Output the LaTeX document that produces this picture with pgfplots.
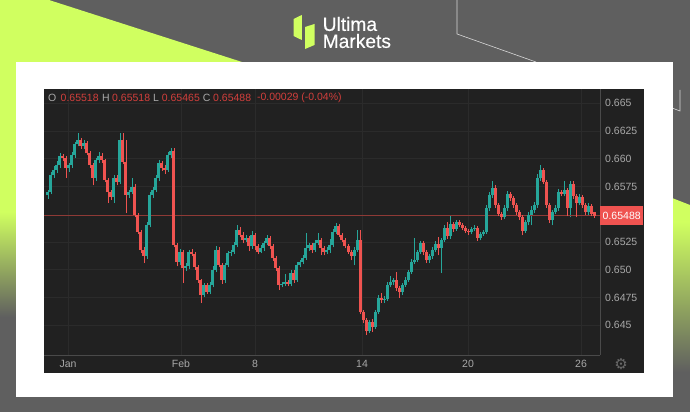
\documentclass[border=0pt]{standalone}
\usepackage{pgfplots}
\usepackage{pgfplotstable}
\usepackage{fontspec}
\setmainfont{Liberation Sans}
\newfontfamily\symfont{DejaVu Sans}
\newfontfamily\logofont[FakeBold=0.35]{Liberation Sans}
\pgfplotsset{compat=1.18}

\definecolor{bgray}{HTML}{5F5F5F}
\definecolor{lime}{HTML}{D0FF60}
\definecolor{panel}{HTML}{212121}
\definecolor{gridc}{HTML}{2B2B2B}
\definecolor{axisc}{HTML}{4A4A4A}
\definecolor{gearc}{HTML}{686868}
\definecolor{labelc}{HTML}{A8A8A8}
\definecolor{upc}{HTML}{26A69A}
\definecolor{downc}{HTML}{EF5350}
\definecolor{valc}{HTML}{D23F3C}
\definecolor{pricec}{HTML}{8E3A36}

% bar open high low close
\pgfplotstableread{
x o h l c
0 0.65672 0.65720 0.65640 0.65699
1 0.65699 0.65880 0.65680 0.65852
2 0.65852 0.65930 0.65830 0.65897
3 0.65897 0.65980 0.65870 0.65942
4 0.65942 0.66050 0.65920 0.66023
7 0.65915 0.65960 0.65880 0.65942
8 0.65942 0.66060 0.65920 0.66032
9 0.66032 0.66150 0.66010 0.66131
10 0.66131 0.66230 0.66110 0.66167
12 0.66113 0.66170 0.66090 0.66140
16 0.65825 0.66010 0.65800 0.65987
17 0.65987 0.66060 0.65960 0.66023
22 0.65654 0.65850 0.65600 0.65825
24 0.65789 0.66230 0.65770 0.66167
27 0.65672 0.65720 0.65650 0.65699
28 0.65699 0.65825 0.65680 0.65744
33 0.65123 0.65430 0.65100 0.65402
34 0.65402 0.65700 0.65380 0.65672
35 0.65672 0.65745 0.65650 0.65717
36 0.65717 0.65850 0.65700 0.65825
37 0.65825 0.65990 0.65800 0.65960
40 0.65897 0.66060 0.65880 0.66032
41 0.66032 0.66095 0.66010 0.66068
44 0.65069 0.65185 0.65040 0.65159
46 0.65015 0.65060 0.64990 0.65030
47 0.65030 0.65180 0.65010 0.65159
52 0.64772 0.64880 0.64750 0.64862
54 0.64799 0.64885 0.64780 0.64862
55 0.64862 0.65030 0.64840 0.64997
56 0.64997 0.65215 0.64980 0.65177
59 0.64907 0.65060 0.64880 0.65042
60 0.65042 0.65170 0.65020 0.65150
61 0.65150 0.65180 0.65120 0.65159
62 0.65159 0.65245 0.65140 0.65222
63 0.65222 0.65400 0.65200 0.65357
66 0.65267 0.65310 0.65250 0.65285
68 0.65213 0.65350 0.65190 0.65312
71 0.65159 0.65220 0.65150 0.65195
72 0.65195 0.65260 0.65170 0.65240
73 0.65240 0.65310 0.65220 0.65285
78 0.64862 0.64890 0.64840 0.64871
79 0.64871 0.64960 0.64850 0.64889
81 0.64870 0.65000 0.64850 0.64970
83 0.64907 0.65070 0.64890 0.65042
84 0.65042 0.65090 0.65020 0.65069
85 0.65069 0.65130 0.65050 0.65105
86 0.65105 0.65330 0.65090 0.65195
87 0.65195 0.65240 0.65170 0.65222
89 0.65177 0.65265 0.65160 0.65240
90 0.65240 0.65330 0.65220 0.65267
93 0.65159 0.65200 0.65140 0.65177
94 0.65177 0.65280 0.65150 0.65222
95 0.65222 0.65370 0.65200 0.65339
96 0.65339 0.65420 0.65320 0.65393
102 0.65123 0.65200 0.65040 0.65177
103 0.65177 0.65357 0.65160 0.65267
107 0.64448 0.64550 0.64430 0.64529
109 0.64484 0.64640 0.64465 0.64619
110 0.64619 0.64770 0.64600 0.64745
112 0.64727 0.64765 0.64700 0.64736
113 0.64736 0.64890 0.64720 0.64862
114 0.64862 0.64940 0.64840 0.64889
115 0.64889 0.64925 0.64860 0.64907
118 0.64799 0.64880 0.64770 0.64862
119 0.64862 0.64930 0.64845 0.64907
120 0.64907 0.65000 0.64890 0.64979
121 0.64979 0.65100 0.64960 0.65069
122 0.65069 0.65285 0.65050 0.65087
123 0.65087 0.65180 0.65070 0.65159
124 0.65159 0.65260 0.65140 0.65240
127 0.65087 0.65145 0.65060 0.65123
128 0.65123 0.65200 0.65100 0.65177
129 0.65177 0.65255 0.65160 0.65231
131 0.65195 0.65285 0.64970 0.65267
132 0.65267 0.65400 0.65250 0.65375
134 0.65303 0.65490 0.65280 0.65411
136 0.65366 0.65450 0.65350 0.65429
141 0.65339 0.65385 0.65320 0.65366
142 0.65366 0.65400 0.65345 0.65375
144 0.65285 0.65340 0.65265 0.65321
145 0.65321 0.65360 0.65305 0.65339
146 0.65339 0.65580 0.65320 0.65555
147 0.65555 0.65700 0.65530 0.65672
148 0.65672 0.65800 0.65650 0.65735
152 0.65474 0.65580 0.65455 0.65555
153 0.65555 0.65710 0.65530 0.65681
159 0.65348 0.65450 0.65330 0.65429
160 0.65429 0.65520 0.65400 0.65492
161 0.65492 0.65570 0.65400 0.65537
162 0.65537 0.65610 0.65510 0.65582
163 0.65582 0.65860 0.65560 0.65825
164 0.65825 0.65942 0.65800 0.65897
168 0.65447 0.65540 0.65400 0.65519
169 0.65519 0.65580 0.65500 0.65555
170 0.65555 0.65730 0.65530 0.65699
172 0.65681 0.65800 0.65660 0.65717
174 0.65555 0.65800 0.65470 0.65771
177 0.65600 0.65680 0.65580 0.65654
180 0.65519 0.65600 0.65490 0.65573
}\upbars

\pgfplotstableread{
x o h l c
5 0.66023 0.66040 0.65980 0.66005
6 0.66005 0.66020 0.65830 0.65915
11 0.66167 0.66190 0.66090 0.66113
13 0.66140 0.66160 0.66030 0.66050
14 0.66050 0.66070 0.65920 0.65942
15 0.65942 0.65960 0.65760 0.65825
18 0.66023 0.66050 0.65960 0.65987
19 0.65987 0.66000 0.65790 0.65807
20 0.65807 0.65830 0.65600 0.65699
21 0.65699 0.65720 0.65630 0.65654
23 0.65825 0.65850 0.65760 0.65789
25 0.66167 0.66230 0.65950 0.65969
26 0.65969 0.66170 0.65510 0.65672
29 0.65744 0.65770 0.65470 0.65492
30 0.65492 0.65510 0.65320 0.65339
31 0.65339 0.65360 0.65150 0.65177
32 0.65177 0.65200 0.65060 0.65123
38 0.65960 0.65980 0.65890 0.65915
39 0.65915 0.65940 0.65860 0.65897
42 0.66068 0.66095 0.65200 0.65222
43 0.65222 0.65240 0.65030 0.65069
45 0.65159 0.65180 0.64880 0.65015
48 0.65159 0.65190 0.65120 0.65140
49 0.65140 0.65160 0.65000 0.65024
50 0.65024 0.65040 0.64880 0.64907
51 0.64907 0.64920 0.64700 0.64772
53 0.64862 0.64880 0.64780 0.64799
57 0.65177 0.65200 0.65020 0.65042
58 0.65042 0.65060 0.64870 0.64907
64 0.65357 0.65380 0.65290 0.65312
65 0.65312 0.65335 0.65240 0.65267
67 0.65285 0.65300 0.65170 0.65213
69 0.65312 0.65330 0.65180 0.65213
70 0.65213 0.65230 0.65140 0.65159
74 0.65285 0.65300 0.65190 0.65213
75 0.65213 0.65230 0.65080 0.65105
76 0.65105 0.65120 0.64990 0.65015
77 0.65015 0.65030 0.64820 0.64862
80 0.64889 0.64910 0.64850 0.64870
82 0.64970 0.65000 0.64880 0.64907
88 0.65222 0.65240 0.65150 0.65177
91 0.65267 0.65285 0.65130 0.65195
92 0.65195 0.65210 0.65130 0.65159
97 0.65393 0.65410 0.65290 0.65312
98 0.65312 0.65330 0.65245 0.65267
99 0.65267 0.65285 0.65195 0.65213
100 0.65213 0.65230 0.65140 0.65159
101 0.65159 0.65175 0.65085 0.65123
104 0.65267 0.65357 0.64600 0.64619
105 0.64619 0.64640 0.64520 0.64547
106 0.64547 0.64565 0.64410 0.64448
108 0.64529 0.64560 0.64440 0.64484
111 0.64745 0.64790 0.64700 0.64727
116 0.64907 0.64980 0.64810 0.64835
117 0.64835 0.64855 0.64745 0.64799
125 0.65240 0.65260 0.65130 0.65159
126 0.65159 0.65180 0.65060 0.65087
130 0.65231 0.65290 0.65130 0.65195
133 0.65375 0.65430 0.65280 0.65303
135 0.65411 0.65430 0.65340 0.65366
137 0.65429 0.65445 0.65385 0.65402
138 0.65402 0.65420 0.65355 0.65375
139 0.65375 0.65390 0.65330 0.65348
140 0.65348 0.65365 0.65315 0.65339
143 0.65375 0.65395 0.65260 0.65285
149 0.65735 0.65760 0.65560 0.65582
150 0.65582 0.65600 0.65480 0.65501
151 0.65501 0.65520 0.65450 0.65474
154 0.65681 0.65700 0.65620 0.65645
155 0.65645 0.65665 0.65560 0.65582
156 0.65582 0.65600 0.65495 0.65519
157 0.65519 0.65540 0.65450 0.65474
158 0.65474 0.65490 0.65310 0.65348
165 0.65897 0.65920 0.65770 0.65789
166 0.65789 0.65810 0.65560 0.65582
167 0.65582 0.65600 0.65420 0.65447
171 0.65699 0.65720 0.65660 0.65681
173 0.65717 0.65740 0.65480 0.65555
175 0.65771 0.65800 0.65640 0.65663
176 0.65663 0.65685 0.65470 0.65600
178 0.65654 0.65675 0.65560 0.65582
179 0.65582 0.65600 0.65490 0.65519
181 0.65573 0.65590 0.65480 0.65501
182 0.65518 0.65518 0.65465 0.65488
}\downbars

\begin{document}
\begin{tikzpicture}[x=1pt,y=1pt]
\useasboundingbox (0,0) rectangle (690,412);
% backdrop
\fill[bgray] (0,0) rectangle (690,412);
\fill[lime] (0,412) -- (49,412) -- (242,350) -- (16,350) -- (16,200) -- (0,200) -- cycle;
\shade[top color=lime,bottom color=bgray] (0,200) rectangle (16,95);
\fill[lime] (672,214) -- (690,207) -- (690,190) -- (672,190) -- cycle;
\shade[top color=lime,bottom color=bgray] (672,190) rectangle (690,40);
\draw[color=white!75!bgray,line width=.6pt] (457,412) -- (457,378) -- (536,350);
\draw[color=white!75!bgray,line width=.6pt] (680,322) -- (680,301) -- (672,304);
\fill[white] (16,15) rectangle (673,350);
\fill[panel] (44,39) rectangle (644,323);
% logo
\fill[lime] (293.5,393) -- (301.8,397) -- (301.8,372) -- (293.5,376) -- cycle;
\fill[lime] (305,385) -- (314.5,388) -- (314.5,367) -- (305,363) -- cycle;
\node[anchor=west,inner sep=0pt,text=white,align=left,font=\logofont\fontsize{19.2}{17}\selectfont] at (322.5,379.5) {Ultima\\Markets};

\begin{axis}[
	at={(44pt,57pt)}, anchor=south west,
	scale only axis,
	width=556pt, height=266pt,
	xmin=-1.33, xmax=184,
	ymin=0.64232, ymax=0.66627,
	axis x line*=bottom, axis y line*=right,
	axis line style={color=axisc,line width=.8pt,-},
	xtick={6.67,44.33,69,104.67,140,177.67},
	xticklabels={Jan,Feb,8,14,20,26},
	ytick={0.645,0.6475,0.65,0.6525,0.6575,0.66,0.6625,0.665},
	yticklabels={0.645,0.6475,0.650,0.6525,0.6575,0.660,0.6625,0.665},
	major tick length=0pt,
	grid=major,
	grid style={color=gridc,line width=.6pt},
	tick label style={color=labelc,font=\fontsize{10.5}{10.5}\selectfont},
	xticklabel style={inner sep=0pt,yshift=-5pt},
	yticklabel style={inner sep=0pt,xshift=5pt},
	clip=false,
	error bars/error mark=none,
]
% wicks
\addplot[draw=none,forget plot,error bars/.cd,y dir=plus,y explicit,error bar style={color=upc,line width=.9pt}]
	table[x=x,y=l,y error plus expr=\thisrow{h}-\thisrow{l}] {\upbars};
\addplot[draw=pricec,line width=1.2pt,forget plot] coordinates {(-1.33,0.65488)(184,0.65488)};
\addplot[draw=none,forget plot,error bars/.cd,y dir=plus,y explicit,error bar style={color=downc,line width=.9pt}]
	table[x=x,y=l,y error plus expr=\thisrow{h}-\thisrow{l}] {\downbars};
% bodies
\addplot[draw=none,forget plot,error bars/.cd,y dir=plus,y explicit,error bar style={color=upc,line width=3pt}]
	table[x=x,y=o,y error plus expr=\thisrow{c}-\thisrow{o}] {\upbars};
\addplot[draw=none,forget plot,error bars/.cd,y dir=plus,y explicit,error bar style={color=downc,line width=3pt}]
	table[x=x,y=c,y error plus expr=\thisrow{o}-\thisrow{c}] {\downbars};
\node[anchor=west,fill=downc,text=white,inner sep=0pt,minimum width=43pt,minimum height=19pt,font=\fontsize{10.5}{10.5}\selectfont]
	at (axis cs:184,0.65488) {0.65488};
\end{axis}

% OHLC header
\begin{scope}[every node/.style={anchor=west,inner sep=0pt,font=\fontsize{10.5}{10.5}\selectfont}]
\node[text=labelc] at (48,314) {O};
\node[text=valc] at (60.5,314) {0.65518};
\node[text=labelc] at (101.8,314) {H};
\node[text=valc] at (112,314) {0.65518};
\node[text=labelc] at (153,314) {L};
\node[text=valc] at (161.7,314) {0.65465};
\node[text=labelc] at (202.6,314) {C};
\node[text=valc] at (213,314) {0.65488};
\node[text=valc] at (256.8,314) {-0.00029 (-0.04\%)};
\end{scope}
\node[inner sep=0pt,text=gearc,font=\symfont\fontsize{15}{15}\selectfont] at (621,48) {\symbol{"2699}};
\end{tikzpicture}
\end{document}
